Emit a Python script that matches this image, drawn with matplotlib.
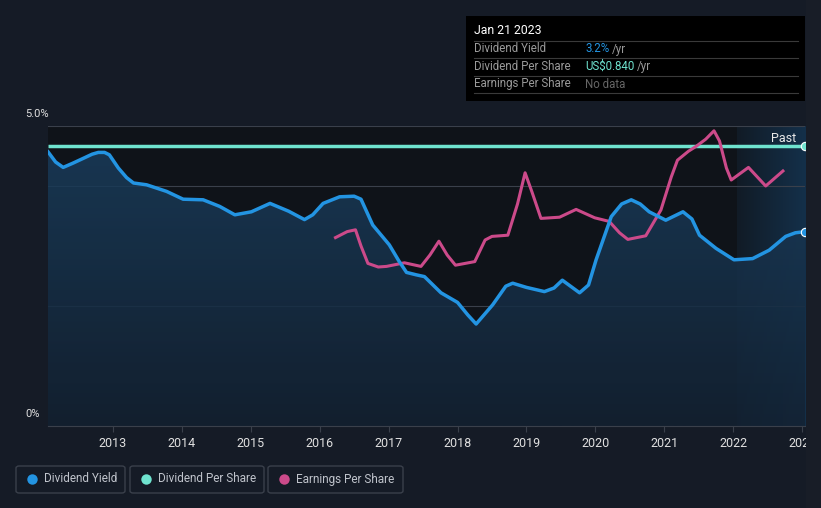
import numpy as np
import matplotlib
matplotlib.use("Agg")
import matplotlib.pyplot as plt
from matplotlib.patches import Rectangle, FancyBboxPatch
from matplotlib.lines import Line2D

plt.rcParams['font.family'] = ['Roboto', 'DejaVu Sans']

# data (year as decimal, value in % of axis)
yield_years = [2012.06, 2012.17, 2012.28, 2012.42, 2012.57, 2012.70, 2012.79, 2012.88, 2012.95,
               2013.08, 2013.20, 2013.30, 2013.49, 2013.78, 2014.02, 2014.31, 2014.55, 2014.77,
               2015.01, 2015.28, 2015.55, 2015.78, 2015.90, 2016.05, 2016.29, 2016.50, 2016.60,
               2016.77, 2017.01, 2017.15, 2017.26, 2017.40, 2017.52, 2017.76, 2018.0, 2018.15,
               2018.27, 2018.51, 2018.70, 2018.80, 2019.0, 2019.26, 2019.40, 2019.52, 2019.77,
               2019.90, 2020.01, 2020.23, 2020.38, 2020.52, 2020.65, 2020.78, 2021.02, 2021.27,
               2021.40, 2021.51, 2021.75, 2022.01, 2022.28, 2022.52, 2022.76, 2022.90, 2023.04]
yield_values = [4.57, 4.40, 4.31, 4.38, 4.46, 4.53, 4.56, 4.56, 4.52,
                4.30, 4.14, 4.05, 4.02, 3.91, 3.78, 3.77, 3.66, 3.52,
                3.57, 3.71, 3.58, 3.44, 3.52, 3.71, 3.82, 3.83, 3.78,
                3.35, 3.02, 2.75, 2.56, 2.52, 2.49, 2.22, 2.06, 1.85,
                1.70, 2.02, 2.33, 2.38, 2.31, 2.24, 2.30, 2.43, 2.22,
                2.35, 2.77, 3.49, 3.70, 3.77, 3.70, 3.57, 3.43, 3.57,
                3.45, 3.18, 2.96, 2.77, 2.79, 2.93, 3.16, 3.22, 3.24]

eps_years = [2016.23, 2016.40, 2016.52, 2016.60, 2016.70, 2016.85, 2016.97, 2017.23, 2017.47,
             2017.60, 2017.73, 2017.85, 2017.97, 2018.25, 2018.40, 2018.50, 2018.73, 2018.87,
             2018.98, 2019.08, 2019.21, 2019.48, 2019.72, 2019.99, 2020.20, 2020.35, 2020.47,
             2020.73, 2020.95, 2021.10, 2021.19, 2021.35, 2021.46, 2021.60, 2021.72, 2021.80,
             2021.90, 2021.97, 2022.22, 2022.47, 2022.72]
eps_values = [3.14, 3.24, 3.27, 3.00, 2.71, 2.65, 2.66, 2.72, 2.66,
              2.85, 3.08, 2.85, 2.68, 2.74, 3.10, 3.16, 3.18, 3.70,
              4.22, 3.90, 3.46, 3.48, 3.61, 3.47, 3.41, 3.22, 3.11,
              3.17, 3.60, 4.15, 4.43, 4.58, 4.66, 4.78, 4.92, 4.75,
              4.30, 4.10, 4.31, 4.00, 4.25]

dps_years = [2012.06, 2023.04]
dps_values = [4.67, 4.67]

x_ticks = list(range(2013, 2024))
x_start, x_end = 2012.06, 2023.04
past_start = 2022.05

BG = '#151b26'
PLOT_BG = '#0f1319'
BLUE = '#2394e2'
TEAL = '#6fe3cf'
PINK = '#cc4a8a'

W, H = 821, 508
fig = plt.figure(figsize=(W / 100, H / 100), dpi=100)
fig.patch.set_facecolor(BG)


def px(x, y):
    return x / W, 1 - y / H


ax = fig.add_axes([48 / W, 1 - 426 / H, (805 - 48) / W, 300 / H])
ax.set_facecolor(PLOT_BG)

# past region gradient
grad = np.linspace(0, 1, 100).reshape(1, -1)
ax.imshow(grad, extent=[past_start, x_end, 0, 5], aspect='auto', zorder=0.5,
          cmap=matplotlib.colors.LinearSegmentedColormap.from_list('p', ['#111b26', '#14304a']),
          interpolation='bicubic')

for g in [2, 4, 5]:
    ax.axhline(g, color='#3a404b', lw=0.8, zorder=1)

# yield fill with vertical gradient
fill = ax.fill_between(yield_years, yield_values, 0, color='none', lw=0)
vgrad = np.linspace(1, 0, 100).reshape(-1, 1)
im = ax.imshow(vgrad, extent=[x_start, x_end, 0, 4.7], aspect='auto', zorder=1.5,
               cmap=matplotlib.colors.LinearSegmentedColormap.from_list('f', ['#132233', '#1a3d5c']),
               alpha=0.85)
im.set_clip_path(fill.get_paths()[0], transform=ax.transData)
ax.set_ylim(0, 5)
ax.set_xlim(x_start, x_end)

ax.plot(dps_years, dps_values, color=TEAL, lw=2.5, zorder=3, solid_capstyle='butt')
ax.plot(eps_years, eps_values, color=PINK, lw=2.2, zorder=3.5, solid_joinstyle='round')
ax.plot(yield_years, yield_values, color=BLUE, lw=2.5, zorder=4, solid_joinstyle='round')
ax.plot([dps_years[-1]], [dps_values[-1]], 'o', ms=6, color=TEAL, mec='white', mew=0.8,
        zorder=5, clip_on=False)
ax.plot([yield_years[-1]], [yield_values[-1]], 'o', ms=6, color=BLUE, mec='white', mew=0.8,
        zorder=5, clip_on=False)

ax.text(2022.92, 4.79, 'Past', color='#e8e8e8', fontsize=9, ha='right', va='center', zorder=6)

for s in ['top', 'right', 'left']:
    ax.spines[s].set_visible(False)
ax.spines['bottom'].set_color('#3a404b')
ax.set_yticks([])
ax.set_xticks(x_ticks)
ax.set_xticklabels([str(t) for t in x_ticks])
ax.tick_params(axis='x', colors='#3a404b', labelcolor='#e0e0e0', labelsize=9, length=4, pad=4)

fig.text(*px(25, 114), '5.0%', color='#e0e0e0', fontsize=8, va='center', ha='left')
fig.text(*px(25, 414), '0%', color='#e0e0e0', fontsize=8, va='center', ha='left')

# cover right edge (clips last tick label)
fig.patches.append(Rectangle(px(806, 508), 15 / W, 1, transform=fig.transFigure,
                             facecolor='#181d27', edgecolor='none', zorder=10))

# tooltip
fig.patches.append(Rectangle(px(466, 101), 339 / W, 85 / H, transform=fig.transFigure,
                             facecolor='#000000', edgecolor='none', zorder=11))
fig.text(*px(474, 31), 'Jan 21 2023', color='white', fontsize=8.8, va='center', zorder=12)
for yy in [41, 58, 76, 93]:
    fig.add_artist(Line2D([474 / W, 798 / W], [1 - yy / H] * 2, color='#3a3a3a', lw=0.8, zorder=12))
rows = [('Dividend Yield', '3.2%', BLUE), ('Dividend Per Share', 'US$0.840', TEAL),
        ('Earnings Per Share', 'No data', '#666666')]
for i, (lab, val, col) in enumerate(rows):
    y = 49 + i * 17.5
    fig.text(*px(474, y), lab, color='#9a9a9a', fontsize=8.3, va='center', zorder=12)
    t = fig.text(*px(585, y), val, color=col, fontsize=8.3, va='center', zorder=12)
    if val != 'No data':
        fig.canvas.draw()
        bb = t.get_window_extent()
        fig.text(bb.x1 / W + 3 / W, 1 - y / H, '/yr', color='#9a9a9a', fontsize=8.3,
                 va='center', zorder=12)

# legend
legend_items = [('Dividend Yield', BLUE, 16, 125), ('Dividend Per Share', TEAL, 130, 264),
                ('Earnings Per Share', PINK, 268, 403)]
for lab, col, x0, x1 in legend_items:
    fig.patches.append(FancyBboxPatch(px(x0, 493), (x1 - x0) / W, 27 / H,
                                      boxstyle='round,pad=0,rounding_size=0.004',
                                      transform=fig.transFigure, facecolor='none',
                                      edgecolor='#3a404b', lw=1, zorder=11))
    fig.add_artist(Line2D([(x0 + 16) / W], [1 - 479 / H], marker='o', ms=7.5, color=col,
                          mec='none', zorder=12))
    fig.text(*px(x0 + 28, 479), lab, color='#c0c4cc', fontsize=8.5, va='center', zorder=12)

fig.savefig('out.png', dpi=100, facecolor=BG)
